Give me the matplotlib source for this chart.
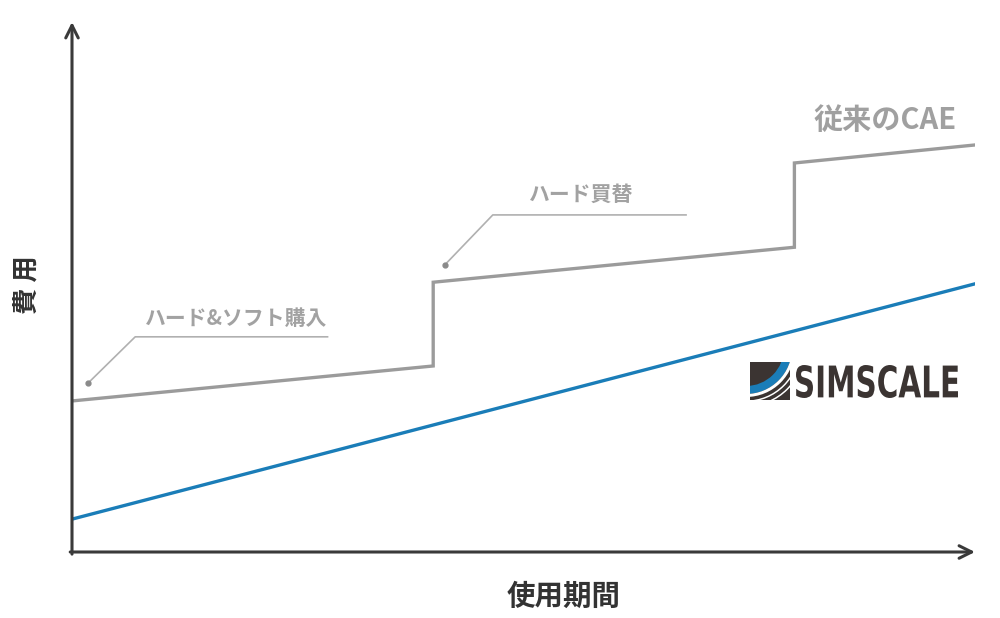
import matplotlib
matplotlib.use("Agg")
import matplotlib.pyplot as plt
from matplotlib.patches import Rectangle, Wedge, PathPatch
from matplotlib.textpath import TextPath
from matplotlib.font_manager import FontProperties
from matplotlib.transforms import Affine2D

plt.rcParams['font.family'] = ['Noto Sans CJK JP', 'DejaVu Sans']

# data (arbitrary units: period 0-10, cost 0-10)
cae_x = [0, 4, 4, 8, 8, 10]
cae_y = [2.85, 3.51, 5.09, 5.75, 7.34, 7.68]
sim_x = [0, 10]
sim_y = [0.62, 5.06]

# callouts: dot, elbow, end of leader, label position
notes = ["ハード&ソフト購入", "ハード買替"]
note_dot = [(0.18, 3.19), (4.13, 5.42)]
note_elbow = [(0.70, 4.06), (4.66, 6.36)]
note_end = [(2.83, 4.06), (6.80, 6.36)]
note_txt = [(1.82, 4.40), (5.64, 6.74)]

grey = "#9b9b9b"
blue = "#1a7db8"
dark = "#3a3a3a"

fig = plt.figure(figsize=(10, 6.18), dpi=100)
ax = fig.add_axes([0.072, (618 - 552) / 618, 0.903, (552 - 22) / 618])
ax.set_xlim(0, 10)
ax.set_ylim(0, 10)
ax.axis('off')

ax.plot(cae_x, cae_y, color=grey, lw=2.4, solid_joinstyle='miter')
ax.plot(sim_x, sim_y, color=blue, lw=2.4)

for t, d, e, f, p in zip(notes, note_dot, note_elbow, note_end, note_txt):
    ax.plot([d[0], e[0], f[0]], [d[1], e[1], f[1]], color="#b0b0b0", lw=1.2)
    ax.plot(d[0], d[1], 'o', color="#8a8a8a", ms=3.5)
    ax.text(p[0], p[1], t, color="#a2a2a2", fontsize=15, ha='center', va='center',
            fontweight='bold')

ax.text(9.0, 8.15, "従来のCAE", color="#a0a0a0", fontsize=21, ha='center',
        va='center', fontweight='bold')

# axes arrows
arr = dict(arrowstyle='->,head_length=0.9,head_width=0.45', color=dark, lw=2.2,
           shrinkA=0, shrinkB=0)
ax.annotate("", xy=(0, 1.0), xytext=(0, -0.004), xycoords='axes fraction',
            arrowprops=arr)
ax.annotate("", xy=(1.0, 0), xytext=(-0.002, 0), xycoords='axes fraction',
            arrowprops=arr)

fig.text(0.564, 1 - 597 / 618, "使用期間", fontsize=20.5, fontweight='bold',
         color="#333333", ha='center', va='center')
fig.text(0.027, 1 - 285 / 618, "費 用", fontsize=19, fontweight='bold',
         color="#333333", ha='center', va='center', rotation=90)

# SIMSCALE logo (display pixels)
H = 618
sq = Rectangle((750, H - 400), 40, 38, facecolor="#3b3432", edgecolor='none',
               transform=None)
fig.add_artist(sq)
cx, cy = 746, H - 348
for r, w, c in [(46, 8, blue), (49, 3, 'white'), (54, 1.5, 'white'),
                (59, 1.5, 'white')]:
    wd = Wedge((cx, cy), r, 270, 360, width=w, facecolor=c, edgecolor='none',
               transform=None)
    wd.set_clip_path(sq)
    fig.add_artist(wd)

tp = TextPath((0, 0), "SIMSCALE", size=10,
              prop=FontProperties(family="DejaVu Sans", weight="bold"))
ext = tp.get_extents()
sx = 162 / ext.width
sy = 33 / ext.height
tr = Affine2D().translate(-ext.x0, -ext.y0).scale(sx, sy).translate(796, H - 398)
fig.add_artist(PathPatch(tr.transform_path(tp), facecolor="#3b3432",
                         edgecolor='none', transform=None))

fig.savefig("out.png", dpi=100, facecolor='white')
